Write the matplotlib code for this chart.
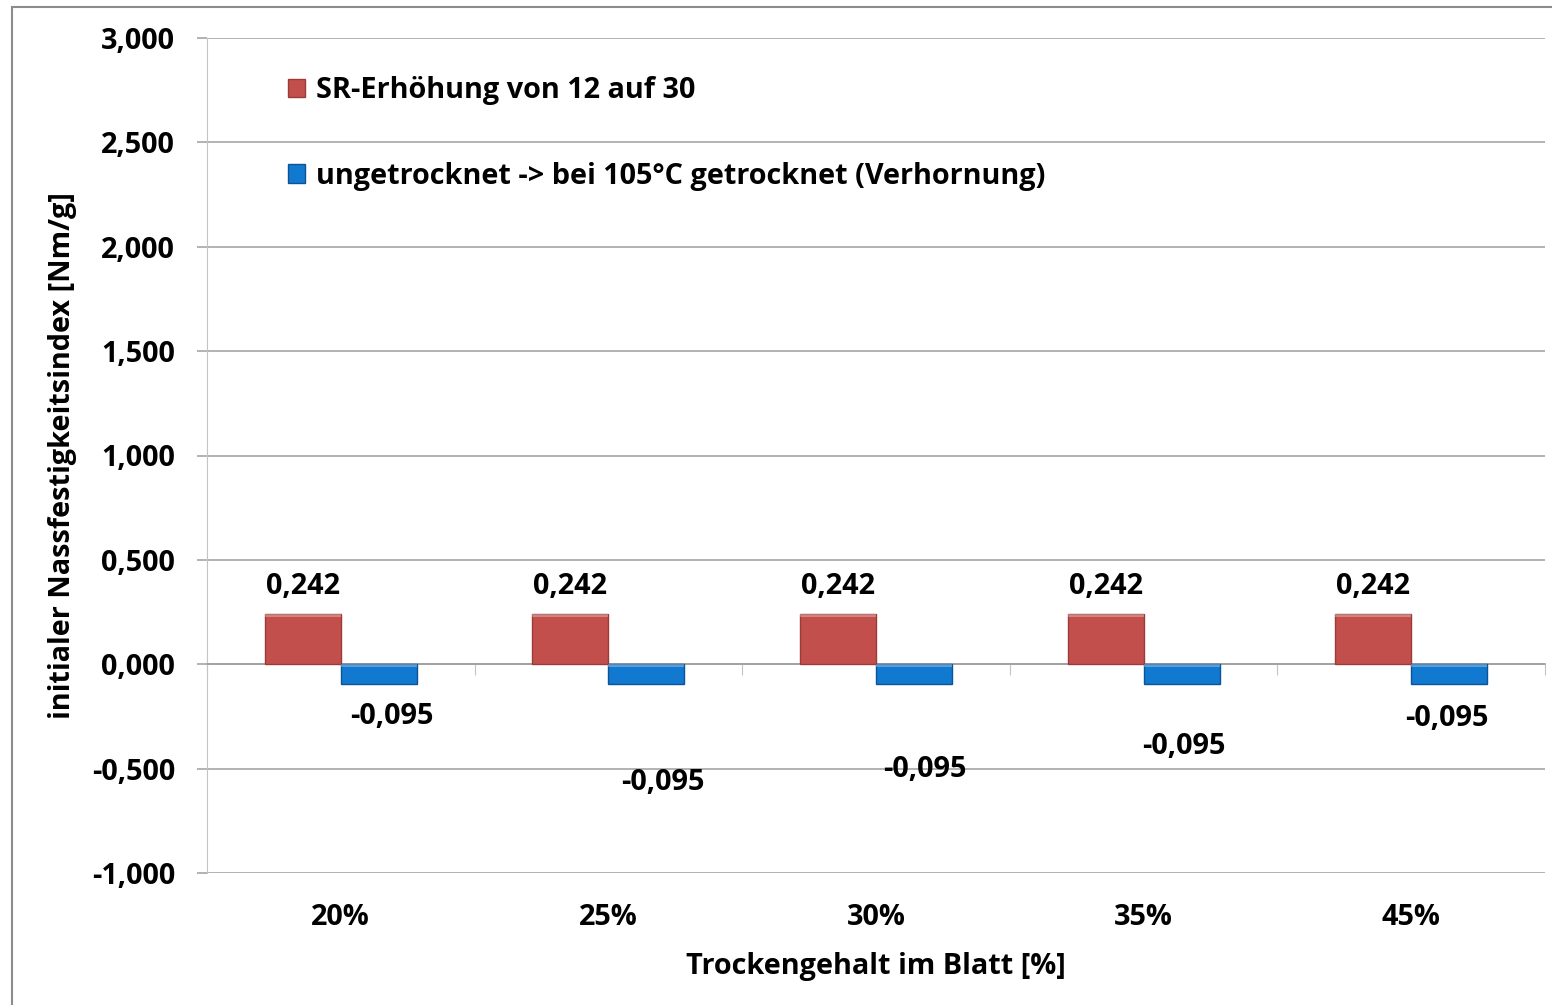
import matplotlib.pyplot as plt
from matplotlib.patches import Rectangle
import numpy as np

categories = ['20%', '25%', '30%', '35%', '45%']
sr_values = [0.242, 0.242, 0.242, 0.242, 0.242]
dry_values = [-0.095, -0.095, -0.095, -0.095, -0.095]
series_names = ['SR-Erhöhung von 12 auf 30',
                'ungetrocknet -> bei 105°C getrocknet (Verhornung)']
# where Excel left the (dragged) labels of the blue series, in data units
dry_label_y = [-0.25, -0.565, -0.505, -0.395, -0.26]
dry_label_dx = [0.05, 0.06, 0.04, 0.01, -0.01]

def de(v):
    return ('%.3f' % v).replace('.', ',')

plt.rcParams['font.family'] = ['Open Sans', 'DejaVu Sans']
plt.rcParams['font.weight'] = 'bold'
FS = 20.8

fig = plt.figure(figsize=(15.52, 10.05), dpi=100)
# outer chart frame (runs off the right and bottom edge)
fig.patches.append(Rectangle((12 / 1552, -0.1), 1.2, 1 - 7 / 1005 + 0.1,
                             transform=fig.transFigure, fill=False,
                             edgecolor='#8c8c8c', linewidth=1.5))

ax = fig.add_axes([207 / 1552, 1 - 873 / 1005, 1338 / 1552, 835 / 1005])

x = np.arange(len(categories))
w = 0.284
red = ax.bar(x - w / 2, sr_values, w, color='#c24f4c', edgecolor='#9b3b38',
             linewidth=1, zorder=3, label=series_names[0])
blue = ax.bar(x + w / 2, dry_values, w, color='#1279d0', edgecolor='#0c5494',
              linewidth=1, zorder=3, label=series_names[1])
# light top bevel on each bar
for b in list(red) + list(blue):
    edge = max(b.get_height(), 0)
    ax.add_patch(Rectangle((b.get_x(), edge - 0.014), b.get_width(), 0.014,
                           facecolor='white', alpha=0.3, linewidth=0, zorder=4))

for i, v in enumerate(sr_values):
    ax.text(x[i] - w / 2, v + 0.13, de(v), ha='center', va='center',
            fontsize=FS, fontweight='bold')
for i, v in enumerate(dry_values):
    ax.text(x[i] + w / 2 + dry_label_dx[i], dry_label_y[i], de(v),
            ha='center', va='center', fontsize=FS, fontweight='bold')

ax.set_xlim(-0.5, len(categories) - 0.5)
ax.set_ylim(-1.0, 3.0)
yt = np.arange(-1.0, 3.01, 0.5)
ax.set_yticks(yt)
ax.set_yticklabels([de(v) for v in yt], fontsize=FS, fontweight='bold')
ax.yaxis.grid(True, color='#a6a6a6', linewidth=1.2, zorder=0)
ax.tick_params(axis='y', length=7, color='#a6a6a6', pad=16, width=1.2)

ax.spines['bottom'].set_position(('data', 0))
ax.spines['bottom'].set_color('#a0a0a0')
ax.spines['bottom'].set_linewidth(1.2)
ax.spines['left'].set_color('#c4c4c4')
ax.spines['top'].set_visible(False)
ax.spines['right'].set_visible(False)
ax.set_xticks(np.arange(-0.5, len(categories)))
ax.set_xticklabels([])
ax.tick_params(axis='x', length=8, color='#c4c4c4', direction='out')
for i, c in enumerate(categories):
    ax.text(x[i], -0.053, c, transform=ax.get_xaxis_transform(),
            ha='center', va='center', fontsize=FS, fontweight='bold')

ax.set_ylabel('initialer Nassfestigkeitsindex [Nm/g]', fontsize=FS,
              fontweight='bold', va='center')
ax.yaxis.set_label_coords(-0.108, 0.5)
ax.text(0.5, -0.112, 'Trockengehalt im Blatt [%]', transform=ax.transAxes,
        ha='center', va='center', fontsize=FS, fontweight='bold')

ax.legend(loc='upper left', bbox_to_anchor=(0.052, 0.968), frameon=False,
          fontsize=FS, handlelength=0.6, handleheight=0.6, handletextpad=0.35,
          labelspacing=1.95, borderaxespad=0)

fig.savefig('out.png', dpi=100)
